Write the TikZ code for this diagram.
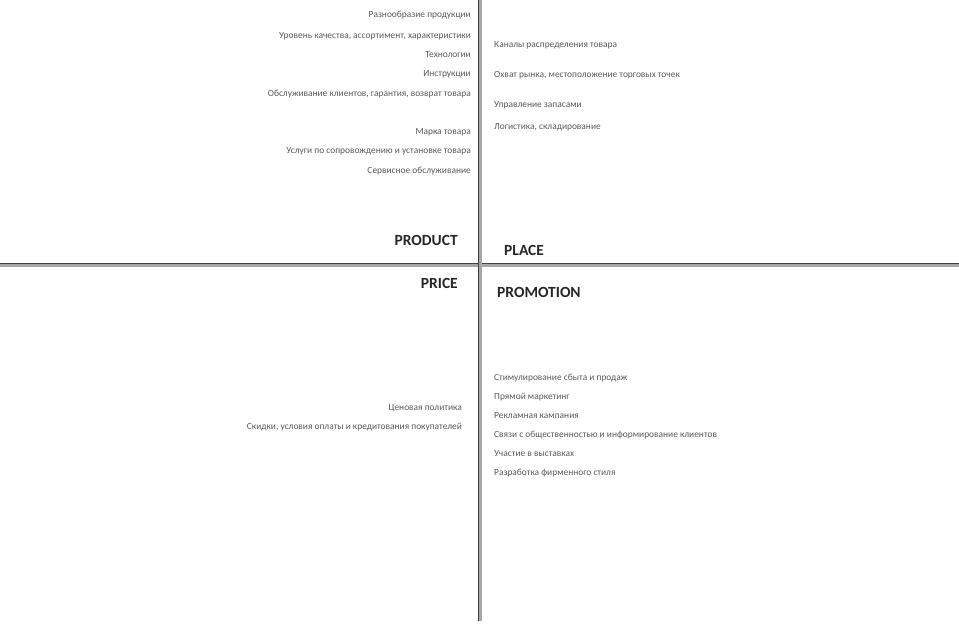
\documentclass[tikz,border=0pt]{standalone}
\usepackage{fontspec}
\setmainfont{Carlito}
\usepackage{xcolor}
\usepackage{tikz}
\usetikzlibrary{positioning, calc}

\tikzset{
    axis/.style={draw=black!75, line width=0.7pt, double=black!35, double distance=3pt},
    item/.style={font=\fontsize{9.4}{10}\selectfont, text=black!65, inner sep=0pt},
    pleft/.style={item, anchor=east},
    pright/.style={item, anchor=west},
    title/.style={font=\fontsize{15.5}{17}\selectfont\bfseries, text=black!85, inner sep=0pt}
}

\begin{document}
\begin{tikzpicture}[x=1pt, y=-1pt]
        \useasboundingbox (0,0) rectangle (959,627);

        % Axes
        \coordinate (top) at (480,0);
        \coordinate (bottom) at (480,621);
        \coordinate (west) at (0,265);
        \coordinate (east) at (959,265);
        \draw[axis] (west) -- (east);
        \draw[axis] (top) -- (bottom);

        % Quadrant titles
        \node[title, anchor=east] (product) at (458,240) {PRODUCT};
        \node[title, anchor=west] (place) at (504,250) {PLACE};
        \node[title, anchor=east] (price) at (458,283) {PRICE};
        \node[title, anchor=west] (promotion) at (497,292) {PROMOTION};

        % Product
        \node[pleft] (pr1) at (471,15) {Разнообразие продукции};
        \node[pleft] (pr2) at (471,36) {Уровень качества, ассортимент, характеристики};
        \node[pleft] (pr3) at (471,55) {Технологии};
        \node[pleft] (pr4) at (471,74) {Инструкции};
        \node[pleft] (pr5) at (471,94) {Обслуживание клиентов, гарантия, возврат товара};
        \node[pleft] (pr6) at (471,132) {Марка товара};
        \node[pleft] (pr7) at (471,151) {Услуги по сопровождению и установке товара};
        \node[pleft] (pr8) at (471,171) {Сервисное обслуживание};

        % Place
        \node[pright] (pl1) at (494,45) {Каналы распределения товара};
        \node[pright] (pl2) at (494,75) {Охват рынка, местоположение торговых точек};
        \node[pright] (pl3) at (494,105) {Управление запасами};
        \node[pright] (pl4) at (494,127) {Логистика, складирование};

        % Price
        \node[pleft] (pc1) at (462,408) {Ценовая политика};
        \node[pleft] (pc2) at (462,427) {Скидки, условия оплаты и кредитования покупателей};

        % Promotion
        \node[pright] (pm1) at (494,378) {Стимулирование сбыта и продаж};
        \node[pright] (pm2) at (494,397) {Прямой маркетинг};
        \node[pright] (pm3) at (494,416) {Рекламная кампания};
        \node[pright] (pm4) at (494,435) {Связи с общественностью и информирование клиентов};
        \node[pright] (pm5) at (494,454) {Участие в выставках};
        \node[pright] (pm6) at (494,473) {Разработка фирменного стиля};

\end{tikzpicture}
\end{document}
